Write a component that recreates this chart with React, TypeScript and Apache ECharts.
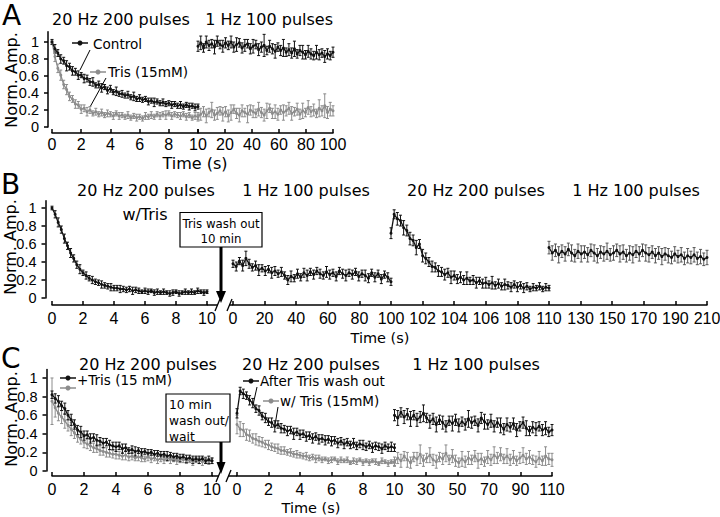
import React, { useEffect, useRef } from "react";
import * as echarts from "echarts";

// ---------------- DATA ----------------
// Panel A — 20 Hz 200 pulses (0–10 s) and 1 Hz 100 pulses
const aControl20 = [1.0,0.92,0.87,0.8,0.78,0.72,0.71,0.66,0.65,0.61,0.61,0.57,0.57,0.53,0.53,0.49,0.5,0.46,0.47,0.43,0.45,0.41,0.42,0.39,0.39,0.37,0.38,0.35,0.36,0.33,0.34,0.32,0.33,0.3,0.31,0.29,0.3,0.28,0.29,0.27,0.28,0.26,0.27,0.25,0.26,0.24,0.26,0.24,0.25,0.23,0.24];
const aControl20Err = [0.03,0.05,0.04,0.05,0.04,0.06,0.04,0.05,0.04,0.05,0.03,0.05,0.04,0.04,0.05,0.03,0.04,0.05,0.03,0.04,0.04,0.03,0.05,0.03,0.04,0.03,0.04,0.03,0.05,0.03,0.04,0.03,0.03,0.04,0.03,0.05,0.03,0.03,0.04,0.03,0.03,0.04,0.03,0.03,0.04,0.03,0.03,0.04,0.03,0.04,0.03];
const aControl1 = [0.95,0.99,0.93,1.0,0.96,0.98,0.94,1.01,0.97,0.95,0.99,0.96,1.0,0.94,0.97,0.99,0.93,0.96,0.98,0.92,0.95,0.97,0.91,0.94,0.96,0.9,0.95,0.92,0.89,0.94,0.9,0.93,0.88,0.91,0.87,0.92,0.86,0.9,0.88,0.85,0.89,0.86,0.84,0.88,0.85,0.87,0.83,0.86,0.84,0.88];
const aControl1Err = [0.06,0.08,0.05,0.07,0.06,0.05,0.08,0.06,0.05,0.07,0.06,0.05,0.07,0.06,0.08,0.05,0.06,0.07,0.05,0.06,0.08,0.05,0.07,0.06,0.13,0.05,0.07,0.06,0.08,0.05,0.06,0.1,0.05,0.07,0.06,0.09,0.05,0.06,0.08,0.05,0.07,0.06,0.05,0.08,0.06,0.05,0.07,0.06,0.05,0.06];
const aTris20 = [1.0,0.83,0.69,0.61,0.5,0.44,0.36,0.33,0.27,0.26,0.21,0.22,0.18,0.2,0.16,0.18,0.15,0.17,0.14,0.16,0.15,0.13,0.16,0.13,0.14,0.12,0.14,0.11,0.13,0.11,0.12,0.1,0.13,0.12,0.14,0.12,0.15,0.13,0.15,0.14,0.16,0.13,0.15,0.14,0.13,0.15,0.12,0.14,0.11,0.13,0.12];
const aTris20Err = [0.02,0.06,0.05,0.06,0.05,0.06,0.05,0.04,0.05,0.04,0.05,0.04,0.05,0.04,0.03,0.04,0.03,0.04,0.03,0.04,0.03,0.04,0.03,0.04,0.03,0.03,0.04,0.03,0.03,0.04,0.03,0.03,0.04,0.03,0.04,0.03,0.03,0.04,0.03,0.05,0.03,0.04,0.03,0.03,0.04,0.03,0.04,0.03,0.03,0.04,0.03];
const aTris1 = [0.12,0.15,0.18,0.13,0.17,0.2,0.14,0.16,0.19,0.15,0.18,0.13,0.17,0.21,0.16,0.14,0.19,0.17,0.15,0.2,0.18,0.16,0.21,0.17,0.14,0.19,0.22,0.16,0.18,0.15,0.2,0.17,0.19,0.22,0.16,0.18,0.21,0.15,0.19,0.17,0.23,0.18,0.2,0.16,0.22,0.19,0.25,0.17,0.21,0.19];
const aTris1Err = [0.05,0.07,0.06,0.08,0.05,0.09,0.06,0.07,0.05,0.08,0.06,0.07,0.09,0.05,0.06,0.08,0.07,0.05,0.1,0.06,0.07,0.05,0.08,0.06,0.07,0.09,0.05,0.06,0.08,0.07,0.05,0.09,0.06,0.07,0.08,0.05,0.07,0.06,0.09,0.05,0.08,0.06,0.07,0.05,0.1,0.06,0.14,0.07,0.08,0.06];

// Panel B
const bTris20 = [1.0,0.93,0.84,0.76,0.66,0.58,0.5,0.44,0.37,0.32,0.28,0.25,0.22,0.2,0.18,0.17,0.15,0.14,0.13,0.12,0.11,0.11,0.1,0.1,0.09,0.1,0.08,0.09,0.08,0.07,0.08,0.07,0.08,0.06,0.07,0.06,0.07,0.06,0.05,0.06,0.07,0.05,0.06,0.07,0.06,0.07,0.06,0.08,0.07,0.06,0.07];
const bTris20Err = [0.02,0.04,0.05,0.04,0.05,0.04,0.05,0.04,0.04,0.05,0.03,0.04,0.03,0.04,0.03,0.03,0.04,0.03,0.03,0.04,0.03,0.03,0.04,0.03,0.03,0.03,0.04,0.03,0.03,0.02,0.03,0.03,0.02,0.03,0.03,0.02,0.03,0.02,0.03,0.03,0.02,0.03,0.02,0.03,0.02,0.03,0.02,0.03,0.02,0.03,0.02];
const bWash1 = [0.38,0.35,0.41,0.36,0.44,0.38,0.34,0.36,0.31,0.33,0.3,0.32,0.28,0.3,0.27,0.29,0.25,0.2,0.24,0.22,0.27,0.23,0.28,0.25,0.29,0.26,0.3,0.27,0.25,0.29,0.26,0.28,0.24,0.3,0.27,0.25,0.28,0.26,0.29,0.24,0.27,0.25,0.22,0.28,0.23,0.27,0.21,0.26,0.23,0.18];
const bWash1Err = [0.04,0.05,0.04,0.06,0.08,0.05,0.04,0.05,0.06,0.04,0.05,0.04,0.06,0.05,0.04,0.05,0.04,0.05,0.06,0.04,0.05,0.04,0.05,0.06,0.04,0.05,0.04,0.05,0.04,0.06,0.05,0.04,0.05,0.04,0.05,0.06,0.04,0.05,0.04,0.05,0.04,0.06,0.05,0.04,0.05,0.04,0.05,0.04,0.05,0.04];
const bWash20 = [0.72,0.93,0.88,0.86,0.78,0.75,0.66,0.64,0.56,0.6,0.47,0.44,0.4,0.35,0.34,0.3,0.29,0.26,0.28,0.23,0.25,0.21,0.23,0.2,0.22,0.19,0.2,0.17,0.19,0.16,0.17,0.15,0.17,0.14,0.16,0.13,0.15,0.14,0.12,0.15,0.12,0.14,0.11,0.13,0.1,0.12,0.11,0.13,0.1,0.12,0.11];
const bWash20Err = [0.06,0.05,0.07,0.06,0.08,0.06,0.07,0.06,0.08,0.05,0.07,0.06,0.05,0.06,0.05,0.06,0.05,0.06,0.05,0.07,0.05,0.05,0.06,0.05,0.07,0.04,0.05,0.06,0.04,0.05,0.06,0.04,0.07,0.04,0.05,0.04,0.06,0.04,0.05,0.04,0.05,0.04,0.05,0.04,0.03,0.04,0.03,0.04,0.03,0.04,0.03];
const bWash1b = [0.56,0.5,0.53,0.48,0.52,0.49,0.54,0.5,0.47,0.52,0.49,0.51,0.48,0.53,0.5,0.47,0.51,0.49,0.52,0.48,0.5,0.53,0.49,0.51,0.47,0.5,0.48,0.52,0.49,0.53,0.5,0.48,0.51,0.47,0.5,0.46,0.49,0.47,0.45,0.49,0.46,0.48,0.44,0.47,0.45,0.48,0.44,0.46,0.43,0.45];
const bWash1bErr = [0.07,0.08,0.07,0.09,0.07,0.08,0.07,0.09,0.07,0.08,0.09,0.07,0.08,0.07,0.09,0.08,0.07,0.08,0.09,0.07,0.08,0.07,0.09,0.08,0.07,0.08,0.09,0.07,0.08,0.07,0.09,0.08,0.07,0.08,0.07,0.09,0.07,0.08,0.07,0.08,0.07,0.08,0.07,0.08,0.07,0.08,0.07,0.08,0.07,0.08];

// Panel C
const cTris20 = [0.82,0.78,0.75,0.7,0.67,0.6,0.55,0.5,0.44,0.42,0.38,0.39,0.35,0.36,0.33,0.32,0.3,0.31,0.28,0.27,0.26,0.27,0.24,0.25,0.22,0.23,0.21,0.22,0.2,0.21,0.19,0.2,0.18,0.19,0.17,0.18,0.16,0.17,0.15,0.16,0.14,0.15,0.13,0.14,0.12,0.13,0.12,0.13,0.11,0.12,0.11];
const cTris20Err = [0.04,0.05,0.06,0.05,0.06,0.05,0.06,0.05,0.05,0.06,0.05,0.04,0.05,0.04,0.06,0.04,0.05,0.04,0.05,0.04,0.05,0.04,0.05,0.04,0.03,0.04,0.05,0.03,0.04,0.03,0.04,0.03,0.04,0.03,0.04,0.03,0.05,0.03,0.04,0.03,0.04,0.03,0.04,0.03,0.04,0.03,0.04,0.03,0.03,0.04,0.03];
const cTrisGray20 = [0.75,0.68,0.62,0.58,0.54,0.49,0.45,0.41,0.37,0.34,0.31,0.29,0.27,0.25,0.24,0.22,0.21,0.2,0.19,0.18,0.18,0.17,0.16,0.17,0.15,0.16,0.14,0.15,0.14,0.13,0.15,0.13,0.14,0.12,0.13,0.12,0.14,0.12,0.13,0.11,0.12,0.13,0.11,0.12,0.1,0.12,0.11,0.1,0.12,0.1,0.11];
const cTrisGray20Err = [0.25,0.1,0.08,0.07,0.08,0.06,0.07,0.06,0.06,0.05,0.06,0.05,0.05,0.05,0.04,0.05,0.04,0.05,0.04,0.04,0.05,0.04,0.04,0.05,0.04,0.04,0.03,0.04,0.04,0.03,0.04,0.04,0.03,0.04,0.03,0.04,0.03,0.04,0.03,0.04,0.03,0.04,0.03,0.03,0.04,0.03,0.03,0.04,0.03,0.03,0.03];
const cWash20 = [0.62,0.86,0.83,0.81,0.76,0.73,0.67,0.65,0.59,0.57,0.53,0.52,0.48,0.5,0.46,0.45,0.43,0.44,0.4,0.42,0.39,0.4,0.37,0.38,0.35,0.37,0.34,0.35,0.33,0.34,0.32,0.33,0.3,0.32,0.29,0.31,0.28,0.3,0.27,0.29,0.28,0.26,0.28,0.25,0.27,0.26,0.24,0.27,0.25,0.26,0.25];
const cWash20Err = [0.05,0.04,0.05,0.04,0.05,0.05,0.04,0.05,0.04,0.05,0.04,0.05,0.06,0.04,0.05,0.04,0.05,0.04,0.06,0.04,0.05,0.04,0.05,0.04,0.05,0.04,0.05,0.04,0.05,0.04,0.05,0.04,0.05,0.04,0.05,0.04,0.04,0.05,0.04,0.04,0.05,0.04,0.04,0.05,0.04,0.04,0.05,0.04,0.04,0.05,0.04];
const cWTris20 = [0.5,0.45,0.44,0.39,0.38,0.35,0.34,0.32,0.31,0.29,0.28,0.26,0.25,0.24,0.22,0.22,0.2,0.2,0.18,0.18,0.17,0.16,0.16,0.14,0.15,0.13,0.14,0.12,0.13,0.11,0.12,0.13,0.1,0.12,0.11,0.12,0.09,0.11,0.1,0.12,0.09,0.11,0.09,0.11,0.1,0.08,0.11,0.1,0.08,0.1,0.09];
const cWTris20Err = [0.1,0.08,0.07,0.06,0.06,0.05,0.06,0.05,0.05,0.04,0.05,0.04,0.04,0.05,0.04,0.04,0.03,0.04,0.03,0.04,0.03,0.03,0.04,0.03,0.03,0.04,0.03,0.03,0.02,0.03,0.03,0.02,0.03,0.03,0.02,0.03,0.02,0.03,0.03,0.02,0.03,0.02,0.03,0.02,0.03,0.02,0.03,0.02,0.03,0.02,0.03];
const cWash1 = [0.6,0.57,0.63,0.58,0.61,0.56,0.6,0.55,0.58,0.62,0.57,0.53,0.56,0.5,0.55,0.52,0.48,0.54,0.51,0.55,0.49,0.53,0.5,0.56,0.52,0.54,0.49,0.57,0.53,0.5,0.54,0.48,0.52,0.49,0.45,0.5,0.47,0.51,0.44,0.48,0.52,0.46,0.43,0.47,0.45,0.48,0.44,0.46,0.42,0.44];
const cWash1Err = [0.06,0.08,0.05,0.07,0.06,0.08,0.05,0.07,0.06,0.09,0.05,0.07,0.06,0.08,0.05,0.07,0.06,0.05,0.08,0.06,0.07,0.05,0.06,0.09,0.06,0.05,0.07,0.06,0.08,0.05,0.07,0.06,0.05,0.08,0.06,0.07,0.05,0.06,0.07,0.05,0.06,0.08,0.05,0.06,0.07,0.05,0.06,0.07,0.05,0.06];
const cWTris1 = [0.1,0.14,0.11,0.16,0.12,0.09,0.15,0.13,0.18,0.11,0.14,0.17,0.12,0.1,0.15,0.13,0.19,0.12,0.16,0.11,0.09,0.13,0.1,0.14,0.12,0.16,0.11,0.13,0.1,0.15,0.12,0.17,0.14,0.18,0.13,0.16,0.12,0.15,0.11,0.14,0.17,0.13,0.15,0.12,0.1,0.14,0.11,0.16,0.13,0.12];
const cWTris1Err = [0.05,0.06,0.07,0.05,0.08,0.06,0.05,0.07,0.1,0.06,0.05,0.08,0.06,0.07,0.05,0.06,0.09,0.05,0.07,0.06,0.05,0.08,0.06,0.07,0.05,0.06,0.08,0.06,0.05,0.07,0.06,0.09,0.06,0.07,0.05,0.08,0.06,0.07,0.05,0.06,0.08,0.06,0.07,0.05,0.06,0.07,0.05,0.1,0.06,0.07];

// Tick labels
const yTicks = [0, 0.2, 0.4, 0.6, 0.8, 1];
const aXLabels1 = ["0", "2", "4", "6", "8", "10"];
const aXLabels2 = ["", "20", "40", "60", "80", "100"];
const bXLabels1 = ["0", "2", "4", "6", "8", "10"];
const bXLabels2 = ["0", "20", "40", "60", "80", "100", "102", "104", "106", "108", "110", "130", "150", "170", "190", "210"];
const cXLabels1 = ["0", "2", "4", "6", "8", "10"];
const cXLabels2 = ["0", "2", "4", "6", "8", "10", "30", "50", "70", "90", "110"];

// ---------------- HELPERS ----------------
const F = "DejaVu Sans";
const FT = "Liberation Sans";
const BLACK = "#111";
const GRAY = "#8c8c8c";

type Pt = [number, number, number];
function seg(vals: number[], errs: number[], x0: number, x1: number): Pt[] {
  const n = vals.length;
  return vals.map((v, i) => [x0 + ((x1 - x0) * i) / (n - 1), v, errs[i] ?? 0.03] as Pt);
}

function errSeries(data: Pt[], gi: number, color: string) {
  return {
    type: "custom",
    xAxisIndex: gi,
    yAxisIndex: gi,
    data,
    silent: true,
    clip: false,
    encode: { x: 0, y: 1 },
    renderItem: (_p: any, api: any) => {
      const x = api.value(0);
      const y = api.value(1);
      const e = api.value(2);
      const p1 = api.coord([x, y + e]);
      const p2 = api.coord([x, y - e]);
      const c = 1.5;
      const st = { stroke: color, lineWidth: 1 };
      return {
        type: "group",
        children: [
          { type: "line", shape: { x1: p1[0], y1: p1[1], x2: p2[0], y2: p2[1] }, style: st },
          { type: "line", shape: { x1: p1[0] - c, y1: p1[1], x2: p1[0] + c, y2: p1[1] }, style: st },
          { type: "line", shape: { x1: p2[0] - c, y1: p2[1], x2: p2[0] + c, y2: p2[1] }, style: st },
        ],
      };
    },
  };
}

function lineSeries(data: Pt[], gi: number, color: string) {
  return {
    type: "line",
    xAxisIndex: gi,
    yAxisIndex: gi,
    data: data.map((d) => [d[0], d[1]]),
    symbol: "circle",
    symbolSize: 3,
    showSymbol: true,
    itemStyle: { color },
    lineStyle: { color, width: 1.3 },
    silent: true,
    z: 3,
  };
}

function both(data: Pt[], gi: number, color: string, errColor?: string) {
  return [errSeries(data, gi, errColor || color), lineSeries(data, gi, color)];
}

function txt(x: number, y: number, text: string, size: number, align = "left", vAlign = "middle", extra: any = {}, family = F) {
  return {
    type: "text",
    x,
    y,
    silent: true,
    ...extra,
    style: { text, fontFamily: family, fontSize: size, fill: "#000", align, verticalAlign: vAlign },
  };
}
function ln(x1: number, y1: number, x2: number, y2: number, w = 1, color = "#000") {
  return { type: "line", silent: true, shape: { x1, y1, x2, y2 }, style: { stroke: color, lineWidth: w } };
}
function marker(x1: number, x2: number, y: number, color: string) {
  return [
    ln(x1, y, x2, y, 1.5, color),
    { type: "circle", silent: true, shape: { cx: (x1 + x2) / 2, cy: y, r: 2.5 }, style: { fill: color } },
  ];
}

export default function App() {
  const ref = useRef<HTMLDivElement>(null);
  useEffect(() => {
    if (!ref.current) return;
    const chart = echarts.init(ref.current, null, { renderer: "svg" });

    const grids = [
      { left: 52, top: 31.8, width: 146, height: 95.2 },
      { left: 198, top: 31.8, width: 135, height: 95.2 },
      { left: 52, top: 200.8, width: 155, height: 97.2 },
      { left: 233, top: 200.8, width: 474, height: 97.2 },
      { left: 52, top: 369.6, width: 160, height: 101.4 },
      { left: 237, top: 369.6, width: 315, height: 101.4 },
    ].map((g) => ({ ...g, containLabel: false, outerBoundsMode: "none" }));

    const yMax = [1.12, 1.12, 1.08, 1.08, 1.09, 1.09];
    const yOff = [4, 0, 6.5, 0, 5.5, 0];
    const yAxis = grids.map((_, i) => ({
      type: "value",
      gridIndex: i,
      min: 0,
      max: yMax[i],
      interval: 0.2,
      show: i % 2 === 0,
      offset: yOff[i],
      axisLine: { show: true, onZero: false, lineStyle: { color: "#000", width: 1.5 } },
      axisTick: { show: true, inside: false, length: 4, customValues: yTicks, lineStyle: { color: "#000", width: 1.5 } },
      axisLabel: {
        fontFamily: FT,
        fontSize: 14.5,
        color: "#000",
        margin: 9,
        customValues: yTicks,
        formatter: (v: number) => String(Math.round(v * 10) / 10),
      },
      splitLine: { show: false },
    }));

    const xSpec = [
      { max: 10, interval: 2, labels: aXLabels1, off: 6, step: 2, m: 3 },
      { max: 5, interval: 1, labels: aXLabels2, off: 6, step: 1, m: 3 },
      { max: 10, interval: 2, labels: bXLabels1, off: 7, step: 2, m: 5 },
      { max: 15, interval: 1, labels: bXLabels2, off: 7, step: 1, m: 5 },
      { max: 10, interval: 2, labels: cXLabels1, off: 5, step: 2, m: 5 },
      { max: 10, interval: 1, labels: cXLabels2, off: 5, step: 1, m: 5 },
    ];
    const xAxis = xSpec.map((s, i) => ({
      type: "value",
      gridIndex: i,
      min: 0,
      max: s.max,
      interval: s.interval,
      position: "bottom",
      offset: s.off,
      axisLine: { show: true, onZero: false, lineStyle: { color: "#000", width: 1.5 } },
      axisTick: { show: true, inside: true, length: 4, lineStyle: { color: "#000", width: 1.5 } },
      axisLabel: {
        fontFamily: FT,
        fontSize: 16,
        color: "#000",
        margin: s.m,
        showMinLabel: true,
        showMaxLabel: true,
        hideOverlap: false,
        formatter: (v: number) => s.labels[Math.round(v / s.step)] ?? "",
      },
      splitLine: { show: false },
    }));

    const series: any[] = [
      // Panel A
      ...both(seg(aTris20, aTris20Err, 0, 10), 0, GRAY),
      ...both(seg(aControl20, aControl20Err, 0, 10), 0, BLACK),
      ...both(seg(aTris1, aTris1Err, 0, 5), 1, GRAY),
      ...both(seg(aControl1, aControl1Err, 0, 5), 1, BLACK),
      // Panel B
      ...both(seg(bTris20, bTris20Err, 0, 10), 2, BLACK),
      ...both(seg(bWash1, bWash1Err, 0, 5), 3, BLACK),
      ...both(seg(bWash20, bWash20Err, 5, 10), 3, BLACK),
      ...both(seg(bWash1b, bWash1bErr, 10, 15), 3, BLACK, "#555"),
      // Panel C
      ...both(seg(cTrisGray20, cTrisGray20Err, 0, 10), 4, GRAY),
      ...both(seg(cTris20, cTris20Err, 0, 10), 4, BLACK),
      ...both(seg(cWTris20, cWTris20Err, 0, 5), 5, GRAY),
      ...both(seg(cWTris1, cWTris1Err, 5, 10), 5, GRAY),
      ...both(seg(cWash20, cWash20Err, 0, 5), 5, BLACK),
      ...both(seg(cWash1, cWash1Err, 5, 10), 5, BLACK),
    ];

    const graphic: any[] = [
      // panel letters
      txt(2, 15, "A", 28),
      txt(1, 184, "B", 28),
      txt(1, 358, "C", 28),
      // y names
      txt(11, 80, "Norm. Amp.", 16, "center", "middle", { rotation: Math.PI / 2 }),
      txt(10, 247, "Norm. Amp.", 16, "center", "middle", { rotation: Math.PI / 2 }),
      txt(11, 419, "Norm. Amp.", 16, "center", "middle", { rotation: Math.PI / 2 }),
      // x names
      txt(195, 163.5, "Time (s)", 16, "center"),
      txt(380, 338, "Time (s)", 14.5, "center"),
      txt(311, 508, "Time (s)", 14.5, "center"),
      // Panel A titles
      txt(52, 19, "20 Hz 200 pulses", 16, "left"),
      txt(333, 19, "1 Hz 100 pulses", 16, "right"),
      // Panel A legend
      ...marker(72, 88, 43, BLACK),
      txt(93, 43.5, "Control", 13.6),
      ...marker(90, 106, 72, GRAY),
      txt(108, 72, "Tris (15mM)", 13.6),
      ln(90, 50, 80, 70, 1),
      ln(106, 78, 90, 107, 1),
      // Panel B titles
      txt(146, 190, "20 Hz 200 pulses", 16, "center"),
      txt(145, 214, "w/Tris", 16, "center"),
      txt(306, 190, "1 Hz 100 pulses", 16, "center"),
      txt(476, 190, "20 Hz 200 pulses", 16, "center"),
      txt(636, 190, "1 Hz 100 pulses", 16, "center"),
      // Panel B axis breaks
      ln(207, 305, 217.5, 305, 1.5),
      ln(229, 305, 233, 305, 1.5),
      ln(215, 311, 220, 299, 1.3),
      ln(227, 311, 232, 299, 1.3),
      // Panel B box + arrow
      { type: "rect", silent: true, shape: { x: 180, y: 212.5, width: 82, height: 34.5 }, style: { fill: "#fff", stroke: "#000", lineWidth: 1.2 } },
      txt(221, 224, "Tris wash out", 11.8, "center"),
      txt(221, 238.5, "10 min", 11.8, "center"),
      ln(221, 247, 221, 293, 3),
      { type: "polygon", silent: true, shape: { points: [[216, 291], [226, 291], [221, 303]] }, style: { fill: "#000" } },
      // Panel C titles
      txt(148, 364, "20 Hz 200 pulses", 16, "center"),
      txt(311, 364, "20 Hz 200 pulses", 16, "center"),
      txt(476, 364, "1 Hz 100 pulses", 16, "center"),
      // Panel C legends
      ...marker(60, 76, 378, BLACK),
      txt(77, 380, "+Tris (15 mM)", 13.5),
      ...marker(60, 76, 388, GRAY),
      ...marker(243, 259, 381, BLACK),
      txt(260, 381, "After Tris wash out", 13.5),
      ...marker(263, 279, 401, GRAY),
      txt(280, 401, "w/ Tris (15mM)", 13.5),
      ln(257, 387, 253, 405, 1),
      ln(278, 407, 275, 425, 1),
      // Panel C axis breaks
      ln(212, 476, 218.5, 476, 1.5),
      ln(228.5, 476, 237, 476, 1.5),
      ln(216, 482, 221, 470, 1.3),
      ln(226, 482, 231, 470, 1.3),
      // Panel C box + arrow
      { type: "rect", silent: true, shape: { x: 166, y: 394, width: 64, height: 48 }, style: { fill: "#fff", stroke: "#000", lineWidth: 1.2 } },
      txt(169, 405, "10 min", 12.3),
      txt(169, 421, "wash out/", 12.3),
      txt(169, 437, "wait", 12.3),
      ln(221, 442, 221, 464, 3),
      { type: "polygon", silent: true, shape: { points: [[216.5, 462], [225.5, 462], [221, 474]] }, style: { fill: "#000" } },
    ];

    chart.setOption({
      animation: false,
      backgroundColor: "#fff",
      grid: grids,
      xAxis,
      yAxis,
      series,
      graphic: { elements: graphic },
    } as any);

    return () => chart.dispose();
  }, []);

  return <div ref={ref} style={{ position: "absolute", left: 0, top: 0, width: 720, height: 517 }} />;
}
